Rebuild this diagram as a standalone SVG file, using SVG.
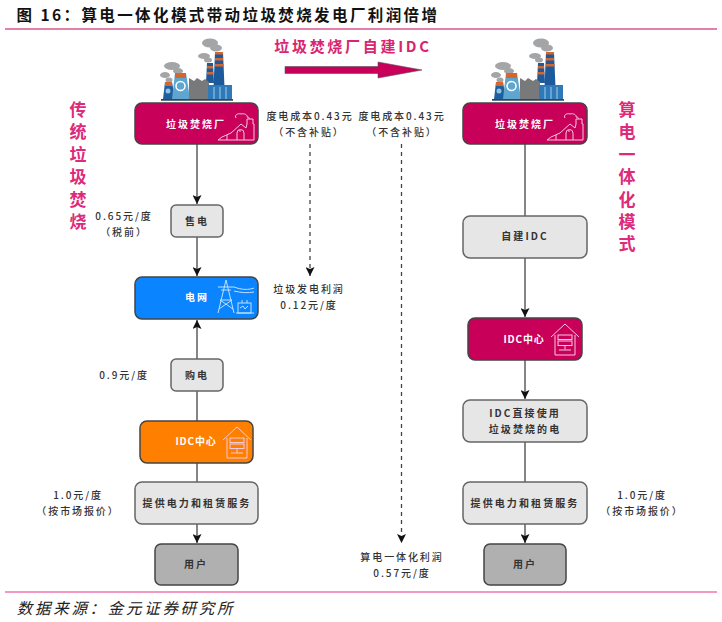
<svg xmlns="http://www.w3.org/2000/svg" width="722" height="622" viewBox="0 0 722 622">
<style>
text{font-family:"Noto Sans CJK SC","Liberation Sans",sans-serif;text-anchor:middle}
.t{font-size:10px;letter-spacing:1.9px;fill:#333;font-weight:500}
.n{font-size:10px;letter-spacing:2.1px;fill:#333;font-weight:700}
.w{font-size:10px;letter-spacing:2px;fill:#fff;font-weight:700}
.v{font-size:17px;fill:#dd2a7b;font-weight:700;writing-mode:vertical-rl;text-anchor:start;letter-spacing:5.4px}
.box{stroke:#444;stroke-width:1.5}
.red{fill:#c8005a}.gr{fill:#e6e6e6;stroke:#666;stroke-width:1.5}.dk{fill:#b0b0b0;stroke:#444;stroke-width:1.5}
.c{fill:none;stroke:#444;stroke-width:1.3}
.d{fill:none;stroke:#444;stroke-width:1.3;stroke-dasharray:4 4}
.i{fill:none;stroke:#f6c9dd;stroke-width:1}
</style>
<defs>
<marker id="a" markerUnits="userSpaceOnUse" markerWidth="10" markerHeight="9" refX="9" refY="4.5" orient="auto"><path d="M0 0L9 4.500L0 9L2 4.500Z" fill="#111"/></marker>
<g id="factory">
<g fill="#a3a5a7"><ellipse cx="49" cy="5" rx="8" ry="4.500"/><ellipse cx="55" cy="10" rx="6" ry="3.500"/><ellipse cx="43" cy="18" rx="6" ry="3"/><ellipse cx="47" cy="22" rx="4" ry="2.500"/><ellipse cx="11" cy="28" rx="8" ry="4"/><ellipse cx="17" cy="33" rx="5" ry="3"/><ellipse cx="4" cy="37" rx="5" ry="3"/><ellipse cx="8" cy="42" rx="3.500" ry="2.500"/></g>
<path d="M54 14h8l2 47H52Z" fill="#1c5a9c"/><path d="M54 14h8v2.500h-8ZM54 20h8v2.500h-8ZM54 26h8.500v2.500H54Z" fill="#d4672e"/>
<path d="M46 25h6l1 20h-8Z" fill="#1c5a9c"/><path d="M46 28h6v2.500h-6ZM46 34h6.300v2.500H46Z" fill="#d4672e"/>
<path d="M4 44h7l3 17H2Z" fill="#1e5f9f"/><path d="M4 44h7v4H4Z" fill="#d4672e"/>
<circle cx="7" cy="53" r="2.500" fill="#8fc3e0"/>
<path d="M14 35h11l4 26H11Z" fill="#5ea6d0"/><path d="M14 35h11v5H14Z" fill="#d4672e"/><circle cx="19.500" cy="48" r="4.500" fill="none" stroke="#fff" stroke-width="1.500"/>
<path d="M28 61V40l5 3 3-3 5 3 3-2 4 3v18Z" fill="#77797b"/>
<path d="M47 47h24v14H47Z" fill="#2f79b8"/><path d="M53 49v12M59 49v12M65 49v12" stroke="#9fd0ea" stroke-width="1"/>
<path d="M0 61h72v1.800H0Z" fill="#33465c"/>
</g>
<g id="plantIcon" class="i"><path d="M0 27h36V11h-1V6h-6v5l-1 4-5-4-10 9-9 4-4 3ZM9 27v-5M19 27v-7a3.500 3.500 0 0 1 7 0v7M22 17v2"/><path d="M18 5c-2-3 2-5 5-4 3-1 7 1 6 3 2 0 3 1 2 2"/></g>
<g id="serverIcon" class="i"><path d="M0 13L14 0l14 13M4 11v20h20V11"/><rect x="7" y="11" width="14" height="4.500"/><rect x="7" y="17" width="14" height="4.500"/><path d="M14 21.500v4M8 26h12"/></g>
</defs>

<rect width="722" height="622" fill="#fff"/>
<path d="M5 29H717" stroke="#c8005a" stroke-width="1.200"/>
<path d="M5 592H717" stroke="#e8308a" stroke-width="1.200"/>
<text x="228" y="21" style="font-size:15.500px;font-weight:700;letter-spacing:2.400px;fill:#111">图 16：算电一体化模式带动垃圾焚烧发电厂利润倍增</text>
<text x="353" y="52" style="font-size:15px;font-weight:700;letter-spacing:2.700px;fill:#d9246f">垃圾焚烧厂自建IDC</text>
<path d="M285 66.500H378V62L422 70L378 78V73.500H285Z" fill="#c8005a" stroke="#555" stroke-width=".6"/>

<g id="connectors">
<path class="c" d="M197 144V204" marker-end="url(#a)"/>
<path class="c" d="M197 237V276" marker-end="url(#a)"/>
<path class="c" d="M197 359V320" marker-end="url(#a)"/>
<path class="c" d="M197 421V391"/>
<path class="c" d="M197 463V482"/>
<path class="c" d="M197 524V543" marker-end="url(#a)"/>
<path class="c" d="M525 144V216"/>
<path class="c" d="M525 258V317" marker-end="url(#a)"/>
<path class="c" d="M525 360V399" marker-end="url(#a)"/>
<path class="c" d="M525 442V482"/>
<path class="c" d="M525 524V543" marker-end="url(#a)"/>
<path class="d" d="M310 144V276" marker-end="url(#a)"/>
<path class="d" d="M401.500 144V543" marker-end="url(#a)"/>
</g>

<g id="factory-left"><use href="#factory" x="161" y="38"/></g>
<g id="factory-right"><use href="#factory" x="492" y="38"/></g>

<g id="plant-left"><rect class="box red" x="135" y="103" width="123" height="41" rx="7"/><text class="w" x="196" y="128">垃圾焚烧厂</text><use href="#plantIcon" x="218" y="113"/></g>
<g id="sell"><rect class="gr" x="171" y="205" width="52" height="32" rx="5"/><text class="n" x="197" y="225">售电</text></g>
<g id="grid"><rect class="box" fill="#0a84ff" x="135" y="277" width="123" height="42" rx="7"/><text class="w" x="197" y="301">电网</text>
<g fill="none" stroke="#bfe0ff" stroke-width="1"><path d="M218 313L226 280L234 313M221 290h10M218 287h16M220 300h12M219 309l13-9M233 309l-13-9M234 287c8 3 15 3 20 1M234 291c8 2 14 2 20 1"/><rect x="238" y="303" width="13" height="10"/><path d="M240 308l3-2 2 3 3-3M242 303v-3M247 303v-3M236 313h18"/></g></g>
<g id="buy"><rect class="gr" x="171" y="359" width="52" height="32" rx="5"/><text class="n" x="197" y="379">购电</text></g>
<g id="idc-left"><rect class="box" fill="#ff8000" x="140" y="421" width="113" height="42" rx="7"/><text class="w" x="196" y="445" style="letter-spacing:.8px">IDC中心</text><use href="#serverIcon" x="223" y="427"/></g>
<g id="service-left"><rect class="gr" x="135" y="482" width="123" height="42" rx="7"/><text class="n" x="197" y="507">提供电力和租赁服务</text></g>
<g id="user-left"><rect class="dk" x="155" y="544" width="83" height="41" rx="6"/><text class="n" x="196" y="568">用户</text></g>

<g id="plant-right"><rect class="box red" x="463" y="103" width="124" height="41" rx="7"/><text class="w" x="525" y="128">垃圾焚烧厂</text><use href="#plantIcon" x="547" y="113"/></g>
<g id="self-idc"><rect class="gr" x="463" y="216" width="124" height="42" rx="7"/><text class="n" x="525" y="240">自建IDC</text></g>
<g id="idc-right"><rect class="box red" x="468" y="318" width="114" height="42" rx="7"/><text class="w" x="524" y="343" style="letter-spacing:.8px">IDC中心</text><use href="#serverIcon" x="551" y="324"/></g>
<g id="direct"><rect class="gr" x="463" y="400" width="124" height="42" rx="7"/><text class="n" x="525" y="417">IDC直接使用</text><text class="n" x="525" y="433">垃圾焚烧的电</text></g>
<g id="service-right"><rect class="gr" x="463" y="482" width="124" height="42" rx="7"/><text class="n" x="525" y="507">提供电力和租赁服务</text></g>
<g id="user-right"><rect class="dk" x="484" y="544" width="82" height="41" rx="6"/><text class="n" x="525" y="568">用户</text></g>

<g id="labels">
<text class="t" x="310" y="120">度电成本0.43元</text><text class="t" x="309" y="136">（不含补贴）</text>
<text class="t" x="402" y="120">度电成本0.43元</text><text class="t" x="402" y="136">（不含补贴）</text>
<text class="t" x="124" y="220">0.65元/度</text><text class="t" x="124" y="236">（税前）</text>
<text class="t" x="309" y="293">垃圾发电利润</text><text class="t" x="309" y="309">0.12元/度</text>
<text class="t" x="124" y="379">0.9元/度</text>
<text class="t" x="78" y="499">1.0元/度</text><text class="t" x="78" y="515">（按市场报价）</text>
<text class="t" x="642" y="499">1.0元/度</text><text class="t" x="642" y="515">（按市场报价）</text>
<text class="t" x="402" y="561">算电一体化利润</text><text class="t" x="402" y="577">0.57元/度</text>
</g>
<g id="side-left"><text class="v" x="78" y="101">传统垃圾焚烧</text></g>
<g id="side-right"><text class="v" x="627" y="101">算电一体化模式</text></g>
<text x="126" y="614" style="font-size:15.500px;font-style:italic;letter-spacing:2.700px;fill:#222;font-weight:400">数据来源：金元证券研究所</text>
</svg>
